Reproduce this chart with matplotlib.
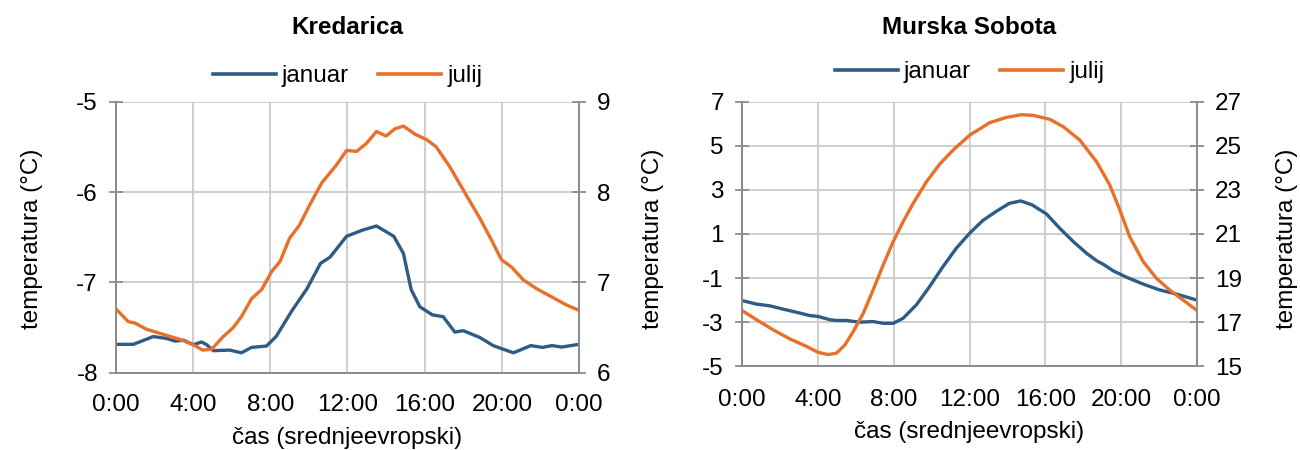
import matplotlib
matplotlib.use("Agg")
import matplotlib.pyplot as plt
from matplotlib.lines import Line2D

plt.rcParams['font.family'] = ['Liberation Sans', 'DejaVu Sans']
plt.rcParams['axes.unicode_minus'] = False

# ---------------- data ----------------
hour_ticks = [0, 4, 8, 12, 16, 20, 24]
hour_labels = ["0:00", "4:00", "8:00", "12:00", "16:00", "20:00", "0:00"]

# Kredarica - januar (left axis)
kr_jan_h = [0, 0.9, 1.93, 2.6, 3.06, 3.5, 4.0, 4.44, 4.7, 5.04, 5.9, 6.5, 7.03, 7.8, 8.3,
            9.1, 9.9, 10.6, 11.1, 11.95, 12.8, 13.5, 14.4, 14.9, 15.3, 15.75, 16.4, 16.96,
            17.56, 18.0, 18.86, 19.55, 20.6, 21.5, 22.1, 22.6, 23.1, 24]
kr_jan_t = [-7.686, -7.686, -7.60, -7.62, -7.65, -7.64, -7.69, -7.66, -7.69, -7.756, -7.75,
            -7.78, -7.72, -7.705, -7.60, -7.32, -7.07, -6.79, -6.72, -6.49, -6.42, -6.376,
            -6.49, -6.68, -7.08, -7.27, -7.36, -7.38, -7.55, -7.535, -7.61, -7.70, -7.78,
            -7.70, -7.72, -7.70, -7.716, -7.686]
# Kredarica - julij (right axis)
kr_jul_h = [0, 0.64, 0.98, 1.59, 2.28, 3.3, 4.0, 4.5, 4.96, 5.56, 6.08, 6.5, 7.03, 7.55, 8.07,
            8.5, 9.0, 9.5, 10.05, 10.66, 11.43, 11.95, 12.47, 12.99, 13.5, 14.0, 14.46, 14.9,
            15.5, 16.1, 16.6, 17.3, 18.2, 18.86, 19.46, 19.98, 20.5, 21.1, 21.8, 22.66, 23.35, 24]
kr_jul_t = [6.705, 6.565, 6.55, 6.48, 6.435, 6.37, 6.31, 6.25, 6.26, 6.40, 6.50, 6.62, 6.82,
            6.92, 7.12, 7.23, 7.49, 7.63, 7.86, 8.10, 8.30, 8.46, 8.45, 8.54, 8.67, 8.62, 8.70,
            8.73, 8.64, 8.58, 8.50, 8.28, 7.95, 7.71, 7.47, 7.25, 7.17, 7.03, 6.93, 6.83, 6.75, 6.69]

# Murska Sobota - januar (left axis)
ms_jan_h = [0, 0.77, 1.48, 2.18, 2.88, 3.58, 4.02, 4.64, 4.99, 5.5, 6.2, 6.9, 7.45, 7.98, 8.5,
            9.2, 9.9, 10.6, 11.3, 12.0, 12.7, 13.4, 14.1, 14.7, 15.3, 16.06, 16.76, 17.47,
            18.17, 18.7, 19.05, 19.58, 20.28, 21.16, 22.0, 22.9, 24]
ms_jan_t = [-2.02, -2.18, -2.26, -2.41, -2.55, -2.70, -2.74, -2.89, -2.92, -2.92, -3.0, -2.97,
            -3.05, -3.05, -2.82, -2.21, -1.38, -0.48, 0.35, 1.03, 1.61, 2.02, 2.39, 2.50, 2.32,
            1.91, 1.26, 0.66, 0.13, -0.21, -0.37, -0.67, -0.96, -1.27, -1.53, -1.72, -2.0]
# Murska Sobota - julij (right axis)
ms_jul_h = [0, 0.77, 1.65, 2.53, 3.41, 4.02, 4.55, 4.99, 5.43, 5.87, 6.4, 6.92, 7.45, 7.98, 8.5,
            9.03, 9.73, 10.44, 11.14, 12.02, 13.07, 13.95, 14.74, 15.36, 16.24, 16.94, 17.82,
            18.7, 19.4, 19.93, 20.45, 21.16, 21.86, 22.56, 23.26, 24]
ms_jul_t = [17.53, 17.11, 16.65, 16.24, 15.90, 15.63, 15.53, 15.60, 15.97, 16.58, 17.41, 18.47,
            19.60, 20.66, 21.56, 22.39, 23.37, 24.18, 24.81, 25.49, 26.05, 26.29, 26.41, 26.38,
            26.20, 25.87, 25.26, 24.28, 23.22, 22.09, 20.88, 19.75, 18.99, 18.46, 18.01, 17.53]

BLUE = "#2F5C85"
ORANGE = "#E8702A"
GRID = "#CACACA"
SPINE = "#8C8C8C"
FS = 17.5
W, H = 1300, 450

fig = plt.figure(figsize=(13, 4.5), dpi=100)


def px(x, y):
    return x / W, 1 - y / H


def make_panel(rect, title, title_y, leg_y, jh, jt, uh, ut, lylim, lyticks, rylim, ryticks,
               ylab_left_x, ylab_right_x, ylab_y, xlab_y, tickpad):
    ax = fig.add_axes(rect)
    ax2 = ax.twinx()
    ax.plot(jh, jt, color=BLUE, lw=2.4, solid_joinstyle='round', solid_capstyle='round')
    ax2.plot(uh, ut, color=ORANGE, lw=2.4, solid_joinstyle='round', solid_capstyle='round')
    ax.set_xlim(0, 24)
    ax.set_ylim(*lylim)
    ax.set_yticks(lyticks)
    ax2.set_ylim(*rylim)
    ax2.set_yticks(ryticks)
    ax.set_xticks(hour_ticks)
    ax.set_xticklabels(hour_labels)
    ax.grid(True, color=GRID, lw=1.3)
    ax.set_axisbelow(True)
    for a in (ax, ax2):
        for s in a.spines.values():
            s.set_color(SPINE)
            s.set_linewidth(1.3)
        a.spines['top'].set_visible(False)
    ax.tick_params(axis='y', direction='inout', length=10, width=1.3, color=SPINE,
                   labelsize=FS, pad=8)
    ax2.tick_params(axis='y', direction='inout', length=10, width=1.3, color=SPINE,
                    labelsize=FS, pad=8)
    ax.tick_params(axis='x', length=0, labelsize=FS, pad=tickpad)

    cx = (rect[0] + rect[2] / 2)
    fig.text(cx, px(0, title_y)[1], title, fontsize=FS, fontweight='bold',
             ha='center', va='center')
    fig.text(cx, px(0, xlab_y)[1], "čas (srednjeevropski)", fontsize=FS,
             ha='center', va='center')
    fig.text(px(ylab_left_x, 0)[0], px(0, ylab_y)[1], "temperatura (°C)", fontsize=FS,
             rotation=90, ha='center', va='center')
    if ylab_right_x is not None:
        fig.text(px(ylab_right_x, 0)[0], px(0, ylab_y)[1], "temperatura (°C)", fontsize=FS,
                 rotation=90, ha='center', va='center')

    handles = [Line2D([], [], color=BLUE, lw=2.6), Line2D([], [], color=ORANGE, lw=2.6)]
    ax.legend(handles, ["januar", "julij"], loc='center',
              bbox_to_anchor=(cx, px(0, leg_y)[1]), bbox_transform=fig.transFigure,
              ncol=2, frameon=False, fontsize=FS, handlelength=2.6, handletextpad=0.25,
              columnspacing=1.2, borderaxespad=0, borderpad=0)
    return ax, ax2


make_panel([116 / W, 1 - 372.7 / H, 463 / W, 271 / H], "Kredarica", 27, 76,
           kr_jan_h, kr_jan_t, kr_jul_h, kr_jul_t,
           (-8, -5), [-8, -7, -6, -5], (6, 9), [6, 7, 8, 9],
           32, None, 239, 438, 15)
make_panel([742 / W, 1 - 366.3 / H, 455 / W, 264.6 / H], "Murska Sobota", 27, 72,
           ms_jan_h, ms_jan_t, ms_jul_h, ms_jul_t,
           (-5, 7), [-5, -3, -1, 1, 3, 5, 7], (15, 27), [15, 17, 19, 21, 23, 25, 27],
           653, 1287, 239, 432, 16)

fig.savefig("out.png", dpi=100, facecolor="white")
